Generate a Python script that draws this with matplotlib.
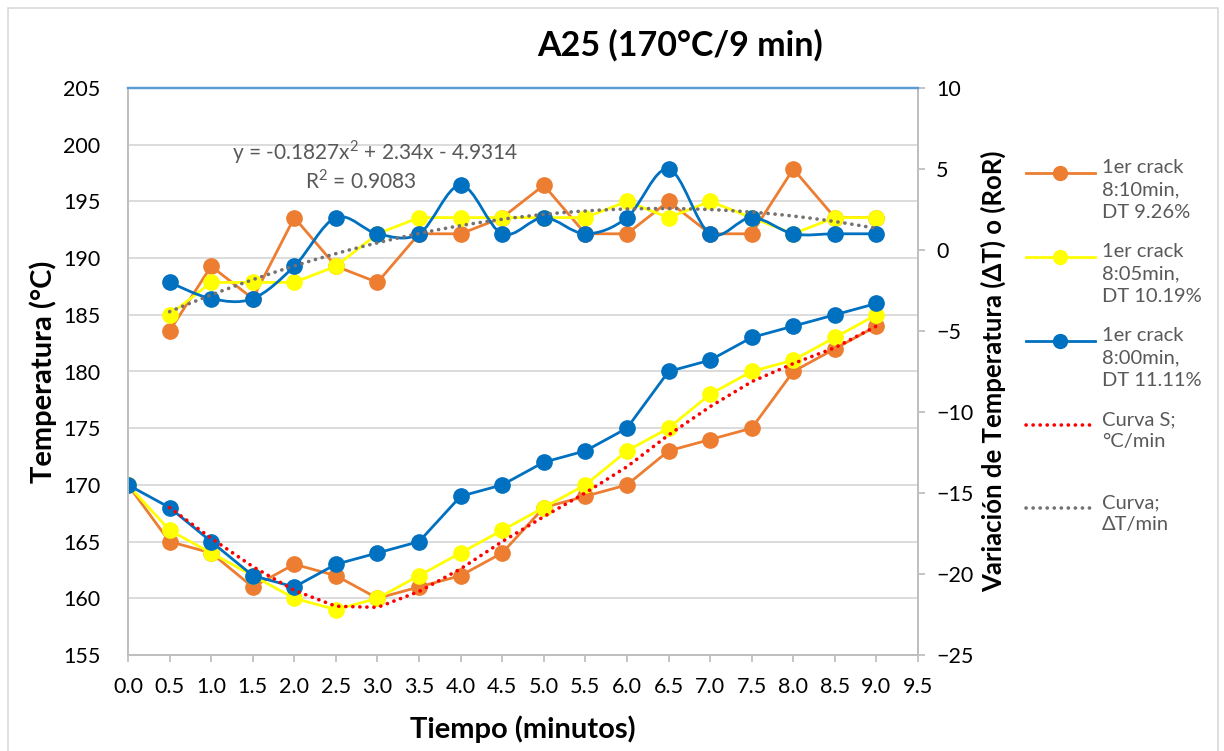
import numpy as np
import matplotlib
matplotlib.use("Agg")
import matplotlib.pyplot as plt
from matplotlib.path import Path
from matplotlib.patches import PathPatch, Rectangle
from matplotlib.lines import Line2D

plt.rcParams['font.family'] = ['Lato', 'DejaVu Sans']
plt.rcParams['mathtext.fontset'] = 'custom'
plt.rcParams['mathtext.rm'] = 'Lato'

# tiempo en minutos
tiempo = [0.0, 0.5, 1.0, 1.5, 2.0, 2.5, 3.0, 3.5, 4.0, 4.5,
          5.0, 5.5, 6.0, 6.5, 7.0, 7.5, 8.0, 8.5, 9.0]

# temperaturas (°C)
temp_810 = [170, 165, 164, 161, 163, 162, 160, 161, 162, 164,
            168, 169, 170, 173, 174, 175, 180, 182, 184]
temp_805 = [170, 166, 164, 162, 160, 159, 160, 162, 164, 166,
            168, 170, 173, 175, 178, 180, 181, 183, 185]
temp_800 = [170, 168, 165, 162, 161, 163, 164, 165, 169, 170,
            172, 173, 175, 180, 181, 183, 184, 185, 186]

# curva S de referencia (desde 0.5 min)
tiempo_s = tiempo[1:]
curva_s = [168, 165.3, 162.8, 160.7, 159.3, 159.2, 160.6, 162.6, 165.0,
           167.2, 169.3, 171.6, 174.4, 176.9, 179.1, 180.7, 182.1, 184.0]

# RoR (ΔT por medio minuto), desde 0.5 min
ror_810 = [-5, -1, -3, 2, -1, -2, 1, 1, 2, 4, 1, 1, 3, 1, 1, 5, 2, 2]
ror_805 = [-4, -2, -2, -2, -1, 1, 2, 2, 2, 2, 2, 3, 2, 3, 2, 1, 2, 2]
ror_800 = [-2, -3, -3, -1, 2, 1, 1, 4, 1, 2, 1, 2, 5, 1, 2, 1, 1, 1]

# tendencia polinómica del RoR
coef = [-0.1827, 2.34, -4.9314]
r2 = 0.9083

x_ticks = [0.0, 0.5, 1.0, 1.5, 2.0, 2.5, 3.0, 3.5, 4.0, 4.5,
           5.0, 5.5, 6.0, 6.5, 7.0, 7.5, 8.0, 8.5, 9.0, 9.5]

NARANJA = '#ED7D31'
AMARILLO = '#FFFF00'
AZUL = '#0070C0'
GRIS_TXT = '#595959'
GRID = '#D9D9D9'
EJE = '#BFBFBF'
PUNTOS = (0, (0.05, 1.9))


def curva_suave(xs, ys):
    """Path bezier tipo 'línea suavizada' de Excel."""
    pts = np.column_stack([xs, ys]).astype(float)
    ext = np.vstack([pts[0], pts, pts[-1]])
    verts = [tuple(pts[0])]
    codes = [Path.MOVETO]
    for i in range(1, len(ext) - 2):
        p0, p1, p2, p3 = ext[i - 1], ext[i], ext[i + 1], ext[i + 2]
        c1 = p1 + (p2 - p0) / 6.0
        c2 = p2 - (p3 - p1) / 6.0
        verts += [tuple(c1), tuple(c2), tuple(p2)]
        codes += [Path.CURVE4] * 3
    return Path(verts, codes)


fig = plt.figure(figsize=(12.24, 7.51), dpi=100)
fig.patches.append(Rectangle((8 / 1224, -0.01), 1210 / 1224, 1 - 8 / 751 + 0.01,
                             transform=fig.transFigure, fill=False,
                             edgecolor='#D9D9D9', lw=1.2))

ax = fig.add_axes([128 / 1224, 1 - 655 / 751, 790 / 1224, 567 / 751])
ax2 = ax.twinx()

lw = 2.0
ms = 11

# temperaturas
ax.plot(tiempo, temp_810, color=NARANJA, lw=lw, marker='o', ms=ms, zorder=3)
ax.plot(tiempo, temp_805, color=AMARILLO, lw=lw, marker='o', ms=ms, zorder=4)
ax.plot(tiempo, temp_800, color=AZUL, lw=lw, marker='o', ms=ms, zorder=5)
ax.plot(tiempo_s, curva_s, color='red', lw=2.6, ls=PUNTOS,
        dash_capstyle='round', zorder=6)

# RoR en eje secundario
ax2.plot(tiempo_s, ror_810, color=NARANJA, lw=lw, marker='o', ms=ms, zorder=3)
ax2.plot(tiempo_s, ror_805, color=AMARILLO, lw=lw, marker='o', ms=ms, zorder=4)
ax2.add_patch(PathPatch(curva_suave(tiempo_s, ror_800), fill=False,
                        edgecolor=AZUL, lw=lw, zorder=5))
ax2.plot(tiempo_s, ror_800, color=AZUL, lw=0, marker='o', ms=ms, zorder=5)

xt = np.linspace(tiempo_s[0], tiempo_s[-1], 200)
ax2.plot(xt, np.polyval(coef, xt), color='#767171', lw=2.6,
         ls=PUNTOS, dash_capstyle='round', zorder=6)

ax2.text(2.97, 6.05, 'y = -0.1827x$^2$ + 2.34x - 4.9314',
         ha='center', va='center', fontsize=15, color=GRIS_TXT)
ax2.text(2.8, 4.3, f'R$^2$ = {r2}', ha='center', va='center',
         fontsize=15, color=GRIS_TXT)

# ejes
ax.set_xlim(0, 9.5)
ax.set_ylim(155, 205)
ax2.set_ylim(-25, 10)
ax.set_xticks(x_ticks)
ax.set_xticklabels([f'{v:.1f}' for v in x_ticks])
ax.set_yticks(range(155, 206, 5))
ax2.set_yticks(range(-25, 11, 5))
ax.yaxis.grid(True, color=GRID, lw=1.3)
ax.set_axisbelow(True)

for a in (ax, ax2):
    for s in a.spines.values():
        s.set_color(EJE)
        s.set_linewidth(1.3)
    a.spines['top'].set_color('#5B9BD5')
    a.spines['top'].set_linewidth(1.6)

ax.tick_params(axis='x', length=5, color=EJE, width=1.3, labelsize=15.5, pad=11)
ax.tick_params(axis='y', length=0, labelsize=15.5, pad=20)
ax2.tick_params(axis='y', length=5, color=EJE, width=1.3, labelsize=15.5, pad=8)

ax.set_xlabel('Tiempo (minutos)', fontsize=21, fontweight='bold', labelpad=13)
ax.set_ylabel('Temperatura (°C)', fontsize=21, fontweight='bold', labelpad=4)
ax2.set_ylabel('Variación de Temperatura (ΔT) o (RoR)', fontsize=18.5,
               fontweight='bold', labelpad=5)

fig.text(680 / 1224, 1 - 45 / 751, 'A25 (170°C/9 min)', ha='center',
         va='center', fontsize=24.5, fontweight='bold')

# leyenda
entradas = [
    (NARANJA, '-', 'o', '1er crack\n8:10min,\nDT 9.26%', 173),
    (AMARILLO, '-', 'o', '1er crack\n8:05min,\nDT 10.19%', 257),
    (AZUL, '-', 'o', '1er crack\n8:00min,\nDT 11.11%', 341),
    ('red', ':', None, 'Curva S;\n°C/min', 425),
    ('#767171', ':', None, 'Curva;\nΔT/min', 508),
]
for color, ls, mk, texto, ypx in entradas:
    yf = 1 - ypx / 751
    if ls == '-':
        fig.add_artist(Line2D([1026 / 1224, 1095 / 1224], [yf, yf], color=color,
                              lw=2.0, transform=fig.transFigure))
        fig.add_artist(Line2D([1060 / 1224], [yf], color=color, marker=mk,
                              ms=10, transform=fig.transFigure))
    else:
        fig.add_artist(Line2D([1026 / 1224, 1095 / 1224], [yf, yf], color=color,
                              lw=2.6, ls=PUNTOS, dash_capstyle='round',
                              transform=fig.transFigure))
    fig.text(1102 / 1224, yf + 14 / 751, texto, ha='left', va='top',
             fontsize=14.5, color=GRIS_TXT, linespacing=1.38)

fig.savefig('out.png', dpi=100)
